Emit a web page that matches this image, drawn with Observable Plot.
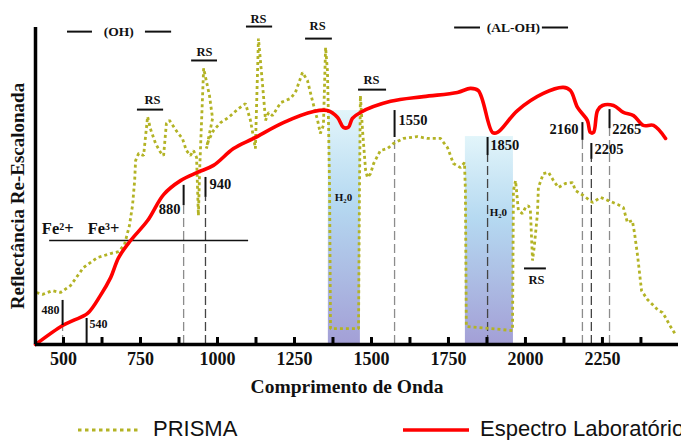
<!DOCTYPE html>
<html><head><meta charset="utf-8">
<script src="https://cdn.jsdelivr.net/npm/d3@7"></script>
<script src="https://cdn.jsdelivr.net/npm/@observablehq/plot@0.6"></script>
<style>
body{margin:0;background:#fff;overflow:hidden;width:681px;height:440px}
#legend{position:relative;width:681px;height:30px;font-family:"Liberation Sans",Arial,sans-serif;font-size:22px;color:#111;overflow:hidden}
#legend span{position:absolute;top:6px;white-space:nowrap;line-height:normal}
#legend svg{position:absolute;top:15px}
</style></head><body>
<div id="chart"></div>
<div id="legend">
  <svg style="left:76px" width="64" height="10"><line x1="2" y1="5" x2="62" y2="5" stroke="#b3b325" stroke-width="3" stroke-dasharray="3.5,3.5"/></svg>
  <span style="left:153px">PRISMA</span>
  <svg style="left:401px" width="70" height="10"><line x1="2" y1="5" x2="68" y2="5" stroke="#ff0000" stroke-width="3.5"/></svg>
  <span style="left:480px">Espectro Laboratório</span>
</div>
<script>
// PRISMA spectrum (wavelength nm, rescaled reflectance)
const prismaWl = [412,432,464,490,523,565,610,653,679,698,
  714,724,731,734,744,760,773,782,799,815,
  825,834,844,870,886,899,912,922,932,938,
  942,955,974,984,964,971,987,1010,1036,1068,
  1091,1107,1117,1123,1133,1146,1156,1166,1179,1205,
  1237,1253,1276,1292,1308,1325,1334,1344,1351,1357,
  1360,1364,1367,1458,1461,1464,1471,1481,1487,1497,
  1507,1529,1552,1571,1604,1649,1682,1724,1747,1766,
  1789,1802,1805,1808,1958,1961,1968,1977,1990,2000,
  2010,2016,2023,2029,2039,2042,2058,2075,2091,2107,
  2130,2153,2162,2188,2218,2244,2269,2299,2318,2331,
  2347,2354,2364,2377,2396,2416,2432,2445,2455,2471,2487];
const prismaRefl = [0.164,0.158,0.170,0.164,0.186,0.243,0.274,0.287,0.293,0.315,
  0.375,0.438,0.517,0.580,0.603,0.596,0.719,0.681,0.634,0.606,
  0.596,0.697,0.707,0.669,0.650,0.612,0.596,0.612,0.590,0.407,
  0.549,0.871,0.785,0.713,0.618,0.644,0.675,0.700,0.716,0.744,
  0.760,0.707,0.653,0.618,0.965,0.823,0.707,0.732,0.722,0.763,
  0.776,0.795,0.858,0.833,0.770,0.707,0.666,0.691,0.937,0.864,
  0.729,0.486,0.050,0.050,0.486,0.785,0.675,0.549,0.527,0.539,
  0.571,0.612,0.618,0.634,0.650,0.656,0.650,0.650,0.621,0.571,
  0.558,0.574,0.486,0.057,0.044,0.486,0.517,0.423,0.413,0.432,
  0.438,0.423,0.265,0.312,0.413,0.495,0.539,0.543,0.517,0.495,
  0.508,0.511,0.486,0.470,0.448,0.464,0.454,0.442,0.432,0.385,
  0.391,0.353,0.281,0.170,0.142,0.123,0.107,0.101,0.085,0.057,0.032];

// Laboratory spectrum
const labWl = [409,497,532,578,620,653,679,718,773,825,880,935,987,1052,1117,1214,1312,1357,1390,1409,1425,1438,1464,1562,1669,1779,1821,1847,1893,1909,1974,2058,2123,2146,2169,2201,2211,2221,2234,2250,2286,2318,2351,2383,2416,2455];
const labRefl = [0,0.060,0.076,0.098,0.155,0.211,0.274,0.328,0.391,0.473,0.517,0.543,0.565,0.618,0.650,0.700,0.735,0.738,0.716,0.685,0.685,0.713,0.732,0.767,0.782,0.795,0.808,0.801,0.669,0.669,0.738,0.792,0.811,0.801,0.748,0.707,0.669,0.669,0.738,0.754,0.754,0.732,0.722,0.691,0.691,0.650];

// Axis ticks
const tickLabels = [500,750,1000,1250,1500,1750,2000,2250];
const minorTicks = [625,875,1125,1375,1625,1875,2125,2375];

// Water absorption bands
const bandStart = [1360,1805];
const bandEnd = [1464,1961];
const bandTop = [0.738,0.656];
const bandLabelX = [1409,1912];
const bandLabelY = [0.464,0.416];
const bandLabel = ["H₂0","H₂0"];

// Absorption feature markers
const markerLabel = ["480","540","880","940","1550","1850","2160","2205","2265"];
const markerX = [497,575,890,961,1575,1877,2185,2214,2273];
const markerTop = [0.139,0.082,0.502,0.527,0.738,0.653,0.700,0.634,0.741];
const markerBottom = [0.060,0,0.438,0.464,0.653,0.596,0.644,0.584,0.681];
const markerTextX = [487,584,880,974,1588,1886,2172,2224,2282];
const markerTextY = [0.107,0.063,0.426,0.505,0.707,0.628,0.678,0.615,0.678];
const markerAnchor = ["end","start","end","start","start","start","end","start","start"];

// RS annotations
const rsX = [789,958,1133,1325,1500,2036];
const rsY = [0.770,0.924,1.028,1.006,0.833,0.205];
const rsBarX1 = [740,916,1094,1286,1458,1997];
const rsBarX2 = [825,1000,1179,1373,1549,2068];
const rsBarY = [0.741,0.896,1.003,0.965,0.804,0.240];

// Group headers
const headerText = ["(OH)","(AL-OH)"];
const headerX = [679,1961];
const headerY = [0.987,1.0];
const headerLeft1 = [513,1770], headerLeft2 = [594,1854];
const headerRight1 = [766,2055], headerRight2 = [851,2140];

// Iron bands
const feText = ["Fe²+","Fe³+"];
const feX = [481,630];
const feY = [0.366,0.366];
const feLineX1 = 455, feLineX2 = 1101, feLineY = 0.328;

const prisma = prismaWl.map((x,i)=>({x, y: prismaRefl[i]}));
const lab = labWl.map((x,i)=>({x, y: labRefl[i]}));
const bands = bandStart.map((x1,i)=>({x1, x2: bandEnd[i], top: bandTop[i], lx: bandLabelX[i], ly: bandLabelY[i], label: bandLabel[i]}));
const markers = markerLabel.map((label,i)=>({label, x: markerX[i], y1: markerTop[i], y2: markerBottom[i], tx: markerTextX[i], ty: markerTextY[i], anchor: markerAnchor[i]}));
const rs = rsX.map((x,i)=>({x, y: rsY[i], x1: rsBarX1[i], x2: rsBarX2[i], by: rsBarY[i]}));
const headers = headerText.map((t,i)=>({t, x: headerX[i], y: headerY[i], l1: headerLeft1[i], l2: headerLeft2[i], r1: headerRight1[i], r2: headerRight2[i]}));
const fe = feText.map((t,i)=>({t, x: feX[i], y: feY[i]}));
const small = d => d.label === "480" || d.label === "540";
const darkDash = ["940","1850","2205"];

const chart = Plot.plot({
  width: 681, height: 410,
  marginLeft: 35, marginRight: 3, marginTop: 27, marginBottom: 66,
  x: {domain: [409, 2497]},
  y: {domain: [0, 1], axis: null},
  style: {fontFamily: "'Liberation Serif', 'Times New Roman', serif", background: "white", overflow: "visible", color: "#111"},
  marks: [
    Plot.rect(bands, {x1: "x1", x2: "x2", y1: 0, y2: "top", fill: "url(#h2oGrad)"}),
    Plot.ruleX(markers.filter(d => d.y2 > 0), {x: "x", y1: 0, y2: "y2", stroke: d => darkDash.includes(d.label) ? "#444" : "#8c8c8c", strokeWidth: 1.3, strokeDasharray: "9,4"}),
    Plot.ruleY([feLineY], {x1: feLineX1, x2: feLineX2, stroke: "#111", strokeWidth: 1.5}),
    Plot.line(prisma, {x: "x", y: "y", stroke: "#b3b325", strokeWidth: 2.8, strokeDasharray: "3,3", strokeLinecap: "butt", strokeLinejoin: "miter"}),
    Plot.line(lab, {x: "x", y: "y", stroke: "#ff0000", strokeWidth: 3.6, curve: "catmull-rom"}),
    Plot.ruleX(markers, {x: "x", y1: "y1", y2: "y2", stroke: "#111", strokeWidth: 2}),
    Plot.text(markers.filter(d => d.anchor === "end" && !small(d)), {x: "tx", y: "ty", text: "label", textAnchor: "end", fontSize: 14.5, fontWeight: "bold"}),
    Plot.text(markers.filter(d => d.anchor === "start" && !small(d)), {x: "tx", y: "ty", text: "label", textAnchor: "start", fontSize: 14.5, fontWeight: "bold"}),
    Plot.text(markers.filter(d => d.anchor === "end" && small(d)), {x: "tx", y: "ty", text: "label", textAnchor: "end", fontSize: 12, fontWeight: "bold"}),
    Plot.text(markers.filter(d => d.anchor === "start" && small(d)), {x: "tx", y: "ty", text: "label", textAnchor: "start", fontSize: 12, fontWeight: "bold"}),
    Plot.ruleY(rs, {x1: "x1", x2: "x2", y: "by", stroke: "#111", strokeWidth: 2}),
    Plot.text(rs, {x: "x", y: "y", text: () => "RS", fontSize: 12.5, fontWeight: "bold"}),
    Plot.ruleY(headers, {x1: "l1", x2: "l2", y: "y", stroke: "#111", strokeWidth: 2}),
    Plot.ruleY(headers, {x1: "r1", x2: "r2", y: "y", stroke: "#111", strokeWidth: 2}),
    Plot.text(headers, {x: "x", y: "y", text: "t", fontSize: 13.5, fontWeight: "bold"}),
    Plot.text(fe, {x: "x", y: "y", text: "t", fontSize: 16.5, fontWeight: "bold"}),
    Plot.text(bands, {x: "lx", y: "ly", text: "label", fontSize: 11, fontWeight: "bold"}),
    Plot.ruleX(minorTicks.concat(tickLabels), {x: d => d, y1: 0, y2: 0.022, stroke: "#000", strokeWidth: 3}),
    Plot.axisX({ticks: tickLabels, tickSize: 0, tickPadding: 8, fontSize: 18, fontWeight: "bold", label: null, tickFormat: d => String(d)}),
    Plot.ruleY([0], {stroke: "#000", strokeWidth: 3.5}),
    Plot.ruleX([409], {stroke: "#000", strokeWidth: 3.5}),
    Plot.text(["Comprimento de Onda"], {frameAnchor: "bottom", text: d => d, dx: -10, dy: 48, fontSize: 19.5, fontWeight: "bold"}),
    Plot.text(["Reflectância Re-Escalonada"], {frameAnchor: "left", textAnchor: "middle", text: d => d, rotate: -90, dx: -18, dy: 10, fontSize: 19, fontWeight: "bold"})
  ]
});

const defs = d3.select(chart).insert("defs", ":first-child");
const g = defs.append("linearGradient").attr("id", "h2oGrad").attr("x1", 0).attr("y1", 0).attr("x2", 0).attr("y2", 1);
g.append("stop").attr("offset", "0%").attr("stop-color", "#e2f5fa");
g.append("stop").attr("offset", "40%").attr("stop-color", "#b5d9f1");
g.append("stop").attr("offset", "100%").attr("stop-color", "#a39fd6");

document.getElementById("chart").appendChild(chart);
</script>
</body></html>
